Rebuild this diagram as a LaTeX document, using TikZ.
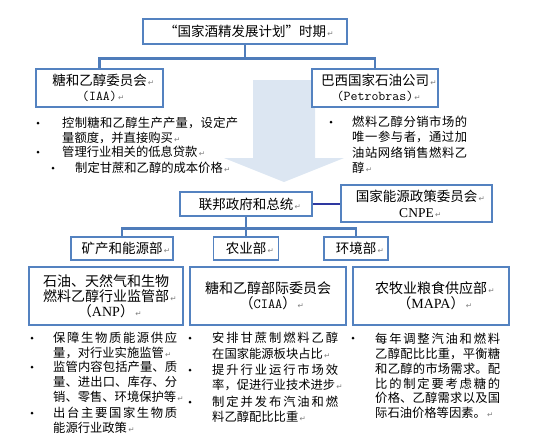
\documentclass[tikz,border=0pt]{standalone}
\usepackage{fontspec}
\newfontfamily\cjk{Noto Sans CJK SC}
\newfontfamily\latn{Liberation Serif}
\newfontfamily\symb{DejaVu Sans}
\XeTeXlinebreaklocale "zh"
\XeTeXlinebreakskip=0pt plus 3pt
\setlength{\parindent}{0pt}
\definecolor{boxblue}{RGB}{84,130,192}
\definecolor{linkblue}{RGB}{79,124,186}
\definecolor{navyline}{RGB}{46,56,160}
\definecolor{arrowfill}{RGB}{220,230,242}
\newcommand{\retm}{\rlap{\symb\color{gray}\fontsize{7.5}{7.5}\selectfont\,↵}}

\begin{document}
\begin{tikzpicture}[x=1pt,y=-1pt,
  box/.style={draw=boxblue,line width=1.5pt,fill=white,inner sep=1pt,align=center,font=\cjk\fontsize{13.5}{15}\selectfont},
  bigbox/.style={box,minimum width=156,minimum height=58,font=\cjk\fontsize{14}{15}\selectfont},
  link/.style={draw=linkblue,line width=2.6pt},
  item/.style={anchor=north west,inner sep=0pt,align=justify,font=\cjk\fontsize{12.3}{15}\selectfont},
  dot/.style={circle,fill=black,inner sep=0pt,minimum size=3pt}]
\useasboundingbox (0,0) rectangle (554,445);
% big arrow behind the top part
\fill[arrowfill] (253,80) -- (315,80) -- (315,158) -- (344,158) -- (284,182)
  -- (224,158) -- (253,158) -- cycle;

% top level
\node[box,minimum width=204,minimum height=25] (plan) at (245,31.5) {“国家酒精发展计划”时期\retm};
\node[box,minimum width=127,minimum height=38] (iaa) at (99.5,88) {糖和乙醇委员会\retm\\{\ttfamily(IAA)}\retm};
\node[box,minimum width=126,minimum height=38] (petro) at (375,88) {巴西国家石油公司\retm\\{\ttfamily(Petrobras)}\retm};
\draw[link] (plan.south) -- ++(0,14) coordinate (fork1);
\draw[link] (iaa.north) |- (fork1) -| (petro.north);

\node[dot] (iaab1) at (38,123) {};
\node[item,text width=176] (iaat1) at (62,117) {控制糖和乙醇生产产量，设定产\linebreak 量额度，并直接购买\retm};
\node[dot] (iaab2) at (38,152) {};
\node[item,text width=176] (iaat2) at (62,146) {管理行业相关的低息贷款\retm};
\node[dot] (iaab3) at (53,168) {};
\node[item,text width=165] (iaat3) at (75,162) {制定甘蔗和乙醇的成本价格\retm};

\node[dot] (petrob1) at (331,122) {};
\node[item,text width=115,font=\cjk\fontsize{12.3}{15.3}\selectfont] (petrot1) at (352,116)
  {燃料乙醇分销市场的\linebreak 唯一参与者，通过加\linebreak 油站网络销售燃料乙\linebreak 醇\retm};

% federal level
\node[box,minimum width=132,minimum height=24] (fed) at (246,204) {联邦政府和总统\retm};
\node[box,minimum width=151,minimum height=37] (cnpe) at (416.5,203.5) {国家能源政策委员会\retm\\[1pt]{\latn CNPE}\retm};
\draw[navyline,line width=1.5pt] (fed.east) -- (fed.east -| cnpe.west);

\node[box,minimum width=102,minimum height=23] (mine) at (122,248.5) {矿产和能源部\retm};
\node[box,minimum width=65,minimum height=23] (agri) at (246,248.5) {农业部\retm};
\node[box,minimum width=64,minimum height=23] (env) at (356,248.5) {环境部\retm};
\draw[link] (fed.south) -- ++(0,12) coordinate (fork2);
\draw[link] (mine.north) |- (fork2) -| (env.north);
\draw[link] (fork2) -- (agri.north);

% agencies
\node[bigbox,minimum width=154] (anp) at (106,296) {石油、天然气和生物\\燃料乙醇行业监管部\retm\\（{\latn ANP}）\retm};
\node[bigbox] (ciaa) at (268,296) {糖和乙醇部际委员会\\（{\ttfamily CIAA}）\retm};
\node[bigbox] (mapa) at (431,296) {农牧业粮食供应部\retm\\（{\latn MAPA}）\retm};

\node[dot] (anpb1) at (32,338) {};
\node[item,text width=124] (anpt1) at (53,332) {保障生物质能源供应\linebreak 量，对行业实施监管\retm};
\node[dot] (anpb2) at (32,367) {};
\node[item,text width=124] (anpt2) at (53,361) {监管内容包括产量、质\linebreak 量、进出口、库存、分\linebreak 销、零售、环境保护等\retm};
\node[dot] (anpb3) at (32,413) {};
\node[item,text width=124] (anpt3) at (53,407) {出台主要国家生物质\linebreak 能源行业政策\retm};

\node[dot] (ciaab1) at (190,338) {};
\node[item,text width=126,font=\cjk\fontsize{12.3}{15.8}\selectfont] (ciaat1) at (212,332) {安排甘蔗制燃料乙醇\linebreak 在国家能源板块占比\retm};
\node[dot] (ciaab2) at (190,370) {};
\node[item,text width=126] (ciaat2) at (212,364) {提升行业运行市场效\linebreak 率，促进行业技术进步\retm};
\node[dot] (ciaab3) at (190,402) {};
\node[item,text width=126] (ciaat3) at (212,396) {制定并发布汽油和燃\linebreak 料乙醇配比比重\retm};

\node[dot] (mapab1) at (353,338) {};
\node[item,text width=125,font=\cjk\fontsize{12.3}{14.8}\selectfont] (mapat1) at (375,333)
  {每年调整汽油和燃料\linebreak 乙醇配比比重，平衡糖\linebreak 和乙醇的市场需求。配\linebreak
   比的制定要考虑糖的\linebreak 价格、乙醇需求以及国\linebreak 际石油价格等因素。\retm};
\end{tikzpicture}
\end{document}
